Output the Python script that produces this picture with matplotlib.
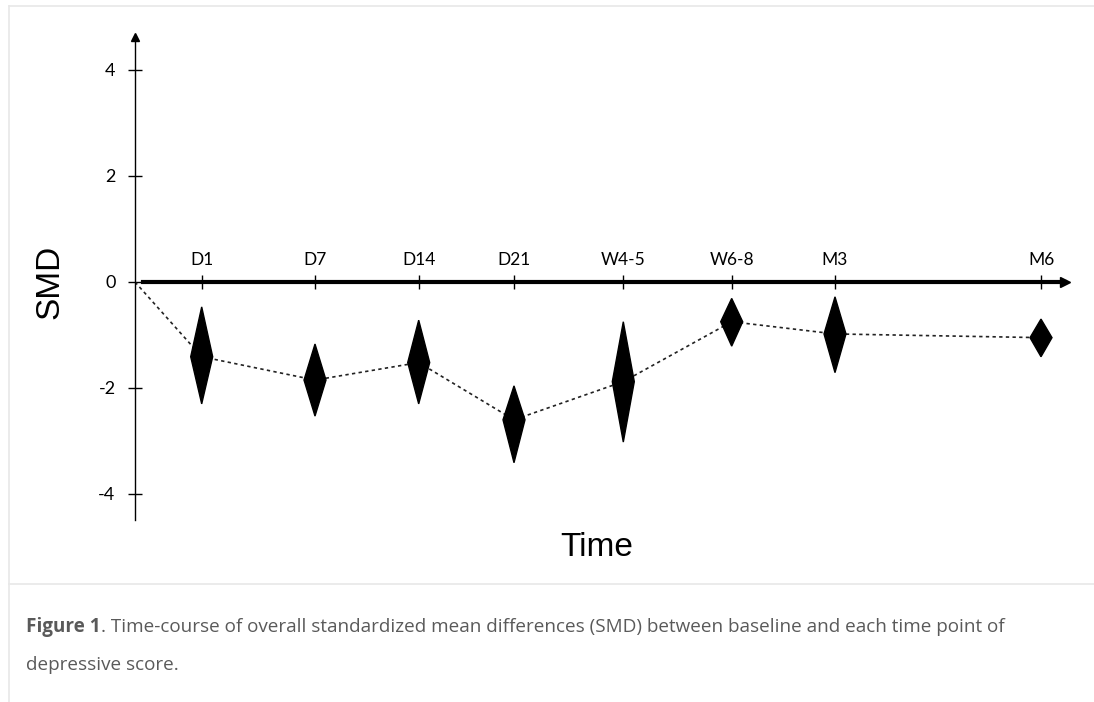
import matplotlib
matplotlib.use("Agg")
import matplotlib.pyplot as plt
from matplotlib.lines import Line2D

# time points, placed along the axis as in the figure (units of ~100 px)
labels = ["D1", "D7", "D14", "D21", "W4-5", "W6-8", "M3", "M6"]
x_pos = [0.667, 1.80, 2.837, 3.79, 4.883, 5.967, 7.00, 9.06]

# SMD and its interval (read from the diamonds)
smd   = [-1.41, -1.85, -1.52, -2.60, -1.88, -0.75, -0.98, -1.05]
lower = [-2.30, -2.53, -2.30, -3.41, -3.02, -1.21, -1.71, -1.41]
upper = [-0.47, -1.17, -0.72, -1.96, -0.75, -0.31, -0.28, -0.70]

y_ticks = [-4, -2, 0, 2, 4]

W, H = 1094, 702
fig = plt.figure(figsize=(W / 100, H / 100), dpi=100)

# axes placed in pixels: x=0 at px 135, 100 px per unit; y=0 at px 282, 53 px per unit
left_px, right_px, top_px, bot_px = 135, 1080, 30, 525
ax = fig.add_axes([left_px / W, (H - bot_px) / H,
                   (right_px - left_px) / W, (bot_px - top_px) / H])
ax.set_xlim(0, (right_px - left_px) / 100)
ax.set_ylim(-(bot_px - 282) / 53, (282 - top_px) / 53)
ax.patch.set_alpha(0)

# spines: y axis at x=0, time axis at y=0 (top spine moved there)
ax.spines["right"].set_visible(False)
ax.spines["bottom"].set_visible(False)
ax.spines["left"].set_bounds(-4.49, 4.62)
ax.spines["left"].set_linewidth(1.0)
ax.spines["top"].set_position(("data", 0))
ax.spines["top"].set_bounds(0.08, 9.30)
ax.spines["top"].set_linewidth(3.0)

ax.plot([0], [4.62], marker="^", color="black", markersize=6, clip_on=False)
ax.plot([9.30], [0], marker=">", color="black", markersize=7, clip_on=False)

ax.xaxis.tick_top()
ax.set_xticks(x_pos)
ax.set_xticklabels(labels, fontname="Lato", fontsize=12.5)
ax.tick_params(axis="x", direction="inout", length=9.5, width=1.0, pad=5)

ax.set_yticks(y_ticks)
ax.set_yticklabels([str(v) for v in y_ticks], fontname="Lato", fontsize=13)
ax.tick_params(axis="y", direction="inout", length=10, width=1.0, pad=9)

# dotted trend line from the origin through the point estimates
ax.plot([0] + x_pos, [0] + smd, linestyle=(0, (2, 2)), color="#222222",
        linewidth=1.2, zorder=2)

# diamonds: width fixed, height = interval
half_w = 0.11
for x, c, lo, hi in zip(x_pos, smd, lower, upper):
    ax.fill([x - half_w, x, x + half_w, x], [c, hi, c, lo],
            color="black", zorder=3)

fig.text(50 / W, 1 - 282 / H, "SMD", rotation=90, ha="center", va="center",
         fontname="Liberation Sans", fontsize=24)
fig.text(597 / W, 1 - 547 / H, "Time", ha="center", va="center",
         fontname="Liberation Sans", fontsize=24)

# page frame and caption
frame = "#e8e8e8"
fig.add_artist(Line2D([9 / W, 1], [1 - 6 / H, 1 - 6 / H], color=frame, lw=1.2))
fig.add_artist(Line2D([9 / W, 9 / W], [0, 1 - 6 / H], color=frame, lw=1.2))
fig.add_artist(Line2D([9 / W, 1], [1 - 584 / H, 1 - 584 / H], color=frame, lw=1.2))

cap_color = "#5a5a5a"
cap_size = 13.6
t = fig.text(26 / W, 1 - 632 / H, "Figure 1", fontname="Open Sans",
             fontweight="bold", fontsize=cap_size, color=cap_color, va="baseline")
fig.canvas.draw()
bb = t.get_window_extent()
fig.text(bb.x1 / W, 1 - 632 / H,
         ". Time-course of overall standardized mean differences (SMD) between baseline and each time point of",
         fontname="Open Sans", fontsize=cap_size, color=cap_color, va="baseline")
fig.text(26 / W, 1 - 670 / H, "depressive score.", fontname="Open Sans",
         fontsize=cap_size, color=cap_color, va="baseline")

fig.savefig("out.png", dpi=100)
